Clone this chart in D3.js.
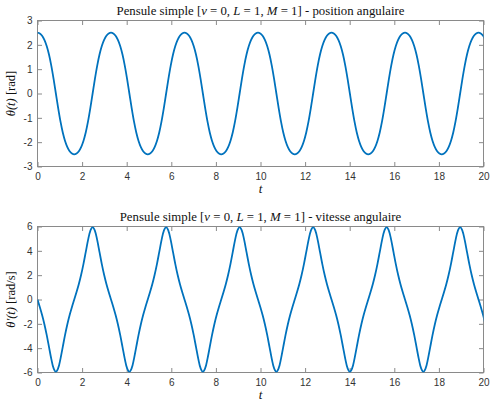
<!DOCTYPE html>
<html>
<head>
<meta charset="utf-8">
<script src="https://cdn.jsdelivr.net/npm/d3@7"></script>
<style>
  body { margin: 0; background: #fff; }
  .tick text { font-family: "Liberation Sans", Arial, sans-serif; font-size: 10px; fill: #333; }
  .tick line { stroke: #8a8a8a; }
  .ttl, .lbl { font-family: "Liberation Serif", "DejaVu Serif", serif; fill: #111; }
</style>
</head>
<body>
<script>
// sample times (s), one sample every ~T/32
var t = [0, 0.103, 0.206, 0.309, 0.412, 0.515, 0.618, 0.721, 0.824, 0.927,
  1.03, 1.133, 1.236, 1.339, 1.442, 1.545, 1.648, 1.751, 1.854, 1.957,
  2.06, 2.163, 2.266, 2.369, 2.472, 2.575, 2.678, 2.781, 2.884, 2.987,
  3.09, 3.193, 3.296, 3.399, 3.502, 3.605, 3.708, 3.811, 3.914, 4.017,
  4.12, 4.223, 4.326, 4.429, 4.532, 4.635, 4.738, 4.841, 4.944, 5.047,
  5.15, 5.253, 5.356, 5.459, 5.562, 5.665, 5.768, 5.871, 5.974, 6.077,
  6.18, 6.283, 6.386, 6.489, 6.592, 6.695, 6.798, 6.901, 7.004, 7.107,
  7.21, 7.313, 7.416, 7.519, 7.622, 7.725, 7.828, 7.931, 8.034, 8.137,
  8.24, 8.343, 8.446, 8.549, 8.652, 8.755, 8.858, 8.961, 9.064, 9.167,
  9.27, 9.373, 9.476, 9.579, 9.682, 9.785, 9.888, 9.991, 10.094, 10.197,
  10.3, 10.403, 10.506, 10.609, 10.712, 10.815, 10.918, 11.021, 11.124, 11.227,
  11.33, 11.433, 11.536, 11.639, 11.742, 11.845, 11.948, 12.051, 12.154, 12.257,
  12.36, 12.463, 12.566, 12.669, 12.772, 12.875, 12.978, 13.081, 13.184, 13.287,
  13.39, 13.493, 13.596, 13.699, 13.802, 13.905, 14.008, 14.111, 14.214, 14.317,
  14.42, 14.523, 14.626, 14.729, 14.832, 14.935, 15.038, 15.141, 15.244, 15.347,
  15.45, 15.553, 15.656, 15.759, 15.862, 15.965, 16.068, 16.171, 16.274, 16.377,
  16.48, 16.583, 16.686, 16.789, 16.892, 16.995, 17.098, 17.201, 17.304, 17.407,
  17.51, 17.613, 17.716, 17.819, 17.922, 18.025, 18.128, 18.231, 18.334, 18.437,
  18.54, 18.643, 18.746, 18.849, 18.952, 19.055, 19.158, 19.261, 19.364, 19.467,
  19.57, 19.673, 19.776, 19.879, 19.982, 20.085];

// angular position (rad)
var theta = [
  2.5, 2.469, 2.372, 2.203, 1.949, 1.6, 1.147, 0.602, 0, -0.602, -1.147, -1.6, -1.949, -2.203, -2.372, -2.469,
  -2.5, -2.469, -2.372, -2.203, -1.949, -1.6, -1.147, -0.602, 0, 0.602, 1.147, 1.6, 1.949, 2.203, 2.372, 2.469,
  2.5, 2.469, 2.372, 2.203, 1.949, 1.6, 1.147, 0.602, 0, -0.602, -1.147, -1.6, -1.949, -2.203, -2.372, -2.469,
  -2.5, -2.469, -2.372, -2.203, -1.949, -1.6, -1.147, -0.602, 0, 0.602, 1.147, 1.6, 1.949, 2.203, 2.372, 2.469,
  2.5, 2.469, 2.372, 2.203, 1.949, 1.6, 1.147, 0.602, 0, -0.602, -1.147, -1.6, -1.949, -2.203, -2.372, -2.469,
  -2.5, -2.469, -2.372, -2.203, -1.949, -1.6, -1.147, -0.602, 0, 0.602, 1.147, 1.6, 1.949, 2.203, 2.372, 2.469,
  2.5, 2.469, 2.372, 2.203, 1.949, 1.6, 1.147, 0.602, 0, -0.602, -1.147, -1.6, -1.949, -2.203, -2.372, -2.469,
  -2.5, -2.469, -2.372, -2.203, -1.949, -1.6, -1.147, -0.602, 0, 0.602, 1.147, 1.6, 1.949, 2.203, 2.372, 2.469,
  2.5, 2.469, 2.372, 2.203, 1.949, 1.6, 1.147, 0.602, 0, -0.602, -1.147, -1.6, -1.949, -2.203, -2.372, -2.469,
  -2.5, -2.469, -2.372, -2.203, -1.949, -1.6, -1.147, -0.602, 0, 0.602, 1.147, 1.6, 1.949, 2.203, 2.372, 2.469,
  2.5, 2.469, 2.372, 2.203, 1.949, 1.6, 1.147, 0.602, 0, -0.602, -1.147, -1.6, -1.949, -2.203, -2.372, -2.469,
  -2.5, -2.469, -2.372, -2.203, -1.949, -1.6, -1.147, -0.602, 0, 0.602, 1.147, 1.6, 1.949, 2.203, 2.372, 2.469,
  2.5, 2.469, 2.372, 2.203];

// angular velocity (rad/s)
var omega = [
  0, -0.613, -1.275, -2.032, -2.911, -3.893, -4.878, -5.648, -5.945, -5.648, -4.878, -3.893, -2.911, -2.032, -1.275, -0.613,
  0, 0.613, 1.275, 2.032, 2.911, 3.893, 4.878, 5.648, 5.945, 5.648, 4.878, 3.893, 2.911, 2.032, 1.275, 0.613,
  0, -0.613, -1.275, -2.032, -2.911, -3.893, -4.878, -5.648, -5.945, -5.648, -4.878, -3.893, -2.911, -2.032, -1.275, -0.613,
  0, 0.613, 1.275, 2.032, 2.911, 3.893, 4.878, 5.648, 5.945, 5.648, 4.878, 3.893, 2.911, 2.032, 1.275, 0.613,
  0, -0.613, -1.275, -2.032, -2.911, -3.893, -4.878, -5.648, -5.945, -5.648, -4.878, -3.893, -2.911, -2.032, -1.275, -0.613,
  0, 0.613, 1.275, 2.032, 2.911, 3.893, 4.878, 5.648, 5.945, 5.648, 4.878, 3.893, 2.911, 2.032, 1.275, 0.613,
  0, -0.613, -1.275, -2.032, -2.911, -3.893, -4.878, -5.648, -5.945, -5.648, -4.878, -3.893, -2.911, -2.032, -1.275, -0.613,
  0, 0.613, 1.275, 2.032, 2.911, 3.893, 4.878, 5.648, 5.945, 5.648, 4.878, 3.893, 2.911, 2.032, 1.275, 0.613,
  0, -0.613, -1.275, -2.032, -2.911, -3.893, -4.878, -5.648, -5.945, -5.648, -4.878, -3.893, -2.911, -2.032, -1.275, -0.613,
  0, 0.613, 1.275, 2.032, 2.911, 3.893, 4.878, 5.648, 5.945, 5.648, 4.878, 3.893, 2.911, 2.032, 1.275, 0.613,
  0, -0.613, -1.275, -2.032, -2.911, -3.893, -4.878, -5.648, -5.945, -5.648, -4.878, -3.893, -2.911, -2.032, -1.275, -0.613,
  0, 0.613, 1.275, 2.032, 2.911, 3.893, 4.878, 5.648, 5.945, 5.648, 4.878, 3.893, 2.911, 2.032, 1.275, 0.613,
  0, -0.613, -1.275, -2.032];

var xTicks = [0, 2, 4, 6, 8, 10, 12, 14, 16, 18, 20];
var thetaTicks = [-3, -2, -1, 0, 1, 2, 3];
var omegaTicks = [-6, -4, -2, 0, 2, 4, 6];

var left = 37.5, right = 483.5, plotH = 146;

var svg = d3.select("body").append("svg")
    .attr("width", 496)
    .attr("height", 400);

var x = d3.scaleLinear().domain([0, 20]).range([left, right]);
var fmt = function(d) { return String(d); };

function panel(id, top, yDomain, yTicks, values, titleEnd, yLabel) {
  var y = d3.scaleLinear().domain(yDomain).range([top + plotH, top]);
  var g = svg.append("g");

  g.append("clipPath").attr("id", id)
    .append("rect")
    .attr("x", left).attr("y", top)
    .attr("width", right - left).attr("height", plotH);

  // ticks, pointing inward on all four sides
  g.append("g")
    .attr("transform", "translate(0," + (top + plotH) + ")")
    .call(d3.axisBottom(x).tickValues(xTicks).tickFormat(fmt).tickSizeInner(-4.5).tickSizeOuter(0).tickPadding(6))
    .call(function(a) { a.select(".domain").remove(); });
  g.append("g")
    .attr("transform", "translate(0," + top + ")")
    .call(d3.axisTop(x).tickValues(xTicks).tickSizeInner(-4.5).tickSizeOuter(0).tickFormat(""))
    .call(function(a) { a.select(".domain").remove(); });
  g.append("g")
    .attr("transform", "translate(" + left + ",0)")
    .call(d3.axisLeft(y).tickValues(yTicks).tickFormat(fmt).tickSizeInner(-4.5).tickSizeOuter(0).tickPadding(5))
    .call(function(a) { a.select(".domain").remove(); });
  g.append("g")
    .attr("transform", "translate(" + right + ",0)")
    .call(d3.axisRight(y).tickValues(yTicks).tickSizeInner(-4.5).tickSizeOuter(0).tickFormat(""))
    .call(function(a) { a.select(".domain").remove(); });

  g.append("rect")
    .attr("x", left).attr("y", top)
    .attr("width", right - left).attr("height", plotH)
    .attr("fill", "none")
    .attr("stroke", "#8a8a8a");

  var line = d3.line()
    .x(function(d, i) { return x(t[i]); })
    .y(function(d) { return y(d); })
    .curve(d3.curveCatmullRom);

  g.append("path")
    .datum(values)
    .attr("clip-path", "url(#" + id + ")")
    .attr("fill", "none")
    .attr("stroke", "#0072BD")
    .attr("stroke-width", 1.8)
    .attr("d", line);

  // title
  var ttl = g.append("text").attr("class", "ttl")
    .attr("x", (left + right) / 2).attr("y", top - 6)
    .attr("text-anchor", "middle")
    .style("font-size", "12.8px");
  ttl.append("tspan").text("Pensule simple [");
  ttl.append("tspan").style("font-style", "italic").text("ν");
  ttl.append("tspan").text(" = 0, ");
  ttl.append("tspan").style("font-style", "italic").text("L");
  ttl.append("tspan").text(" = 1, ");
  ttl.append("tspan").style("font-style", "italic").text("M");
  ttl.append("tspan").text(" = 1] - " + titleEnd);

  // x label
  g.append("text").attr("class", "lbl")
    .attr("x", (left + right) / 2).attr("y", top + plotH + 26)
    .attr("text-anchor", "middle")
    .style("font-size", "13px").style("font-style", "italic")
    .text("t");

  // y label
  var yl = g.append("text").attr("class", "lbl")
    .attr("transform", "translate(15," + (top + plotH / 2) + ") rotate(-90)")
    .attr("text-anchor", "middle")
    .style("font-size", "12.5px");
  yl.append("tspan").style("font-style", "italic").text(yLabel[0]);
  yl.append("tspan").text(yLabel[1]);
}

panel("clipTop", 20.5, [-3, 3], thetaTicks, theta, "position angulaire", ["θ(t)", "  [rad]"]);
panel("clipBottom", 226.5, [-6, 6], omegaTicks, omega, "vitesse angulaire", ["θ′(t)", "  [rad/s]"]);
</script>
</body>
</html>
